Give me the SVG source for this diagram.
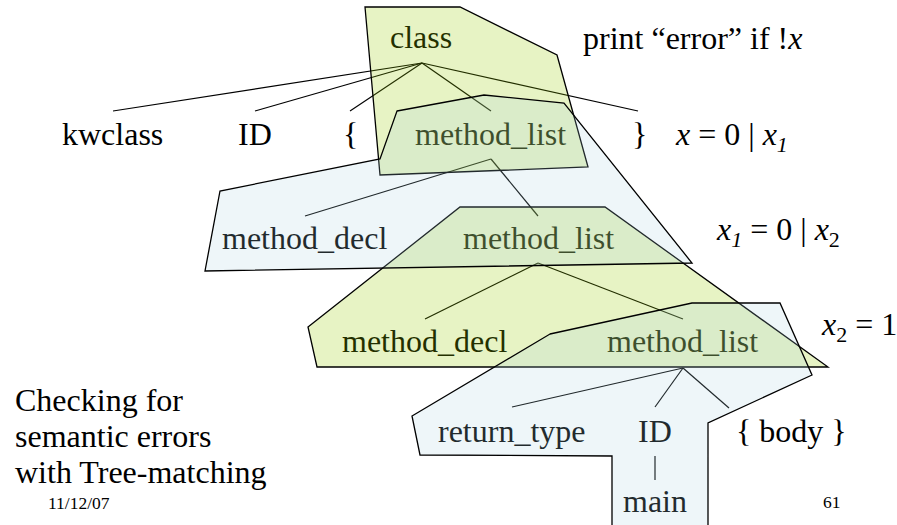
<svg xmlns="http://www.w3.org/2000/svg" width="897" height="525" viewBox="0 0 897 525">
<style>
.sm { font-size: 17.5px; }
.it { font-style: italic; }
.sub { font-size: 22px; }
.edge line { stroke: #000; stroke-width: 1.2; fill: none; }
.y { fill: #99CC00; fill-opacity: 0.23; stroke: #000; stroke-width: 1.3; }
.b { fill: #AAD2E1; fill-opacity: 0.2; stroke: #000; stroke-width: 1.3; }
</style>
<rect width="897" height="525" fill="#fff"/>
<g id="connectors" class="edge">
  <line x1="422" y1="63" x2="113" y2="111"/>
  <line x1="422" y1="63" x2="255" y2="111"/>
  <line x1="422" y1="63" x2="350" y2="111"/>
  <line x1="422" y1="63" x2="491" y2="111"/>
  <line x1="422" y1="63" x2="638" y2="111"/>
  <line x1="491" y1="159" x2="305" y2="216"/>
  <line x1="491" y1="159" x2="538" y2="216"/>
  <line x1="538" y1="263" x2="425" y2="319"/>
  <line x1="538" y1="263" x2="683" y2="319"/>
  <line x1="683" y1="368" x2="512" y2="407"/>
  <line x1="683" y1="368" x2="655" y2="407"/>
  <line x1="683" y1="368" x2="729" y2="408"/>
  <line x1="655" y1="456" x2="655" y2="480"/>
</g>
<g id="texts" font-family="Liberation Serif, serif" font-size="32" fill="#000">
<g id="n-class"><text x="390" y="48">class</text></g>
<g id="n-kwclass"><text x="62" y="145">kwclass</text></g>
<g id="n-id1"><text x="238" y="145">ID</text></g>
<g id="n-lbrace"><text x="343" y="145">{</text></g>
<g id="n-method-list1"><text x="415" y="145">method_list</text></g>
<g id="n-rbrace"><text x="632" y="145">}</text></g>
<g id="n-method-decl1"><text x="222" y="249">method_decl</text></g>
<g id="n-method-list2"><text x="463" y="249">method_list</text></g>
<g id="n-method-decl2"><text x="342" y="352">method_decl</text></g>
<g id="n-method-list3"><text x="607" y="352">method_list</text></g>
<g id="n-return-type"><text x="438" y="442">return_type</text></g>
<g id="n-id2"><text x="638" y="442">ID</text></g>
<g id="n-body"><text x="736" y="442">{ body }</text></g>
<g id="n-main"><text x="623" y="512">main</text></g>
<g id="labels">
  <text x="583" y="49">print “error” if !<tspan class="it">x</tspan></text>
  <text x="676" y="145"><tspan class="it">x</tspan> = 0 | <tspan class="it">x</tspan><tspan class="it sub" dy="7">1</tspan></text>
  <text x="717" y="240"><tspan class="it">x</tspan><tspan class="it sub" dy="7">1</tspan><tspan dy="-7"> = 0 | </tspan><tspan class="it">x</tspan><tspan class="sub" dy="7">2</tspan></text>
  <text x="822" y="335"><tspan class="it">x</tspan><tspan class="sub" dy="7">2</tspan><tspan dy="-7"> = 1</tspan></text>
  <text x="15" y="411">Checking for</text>
  <text x="15" y="447">semantic errors</text>
  <text x="15" y="483">with Tree-matching</text>
  <text class="sm" x="48" y="509">11/12/07</text>
  <text class="sm" x="823" y="508">61</text>
</g>
</g>
<g id="overlays">
  <polygon id="pat-class" class="y" points="365,7 460,7 557,55 588,167 380,175"/>
  <polygon id="pat-list2" class="y" points="460,207 605,207 828,367 317,367 308,327"/>
  <polygon id="pat-list1" class="b" points="397,111 484,95 564,103 692,263 205,271 220,191 380,159"/>
  <polygon id="pat-list3" class="b" points="550,334 692,303 780,303 812,375 708,423 708,527 612,527 612,456 420,455 412,416"/>
</g>
</svg>
